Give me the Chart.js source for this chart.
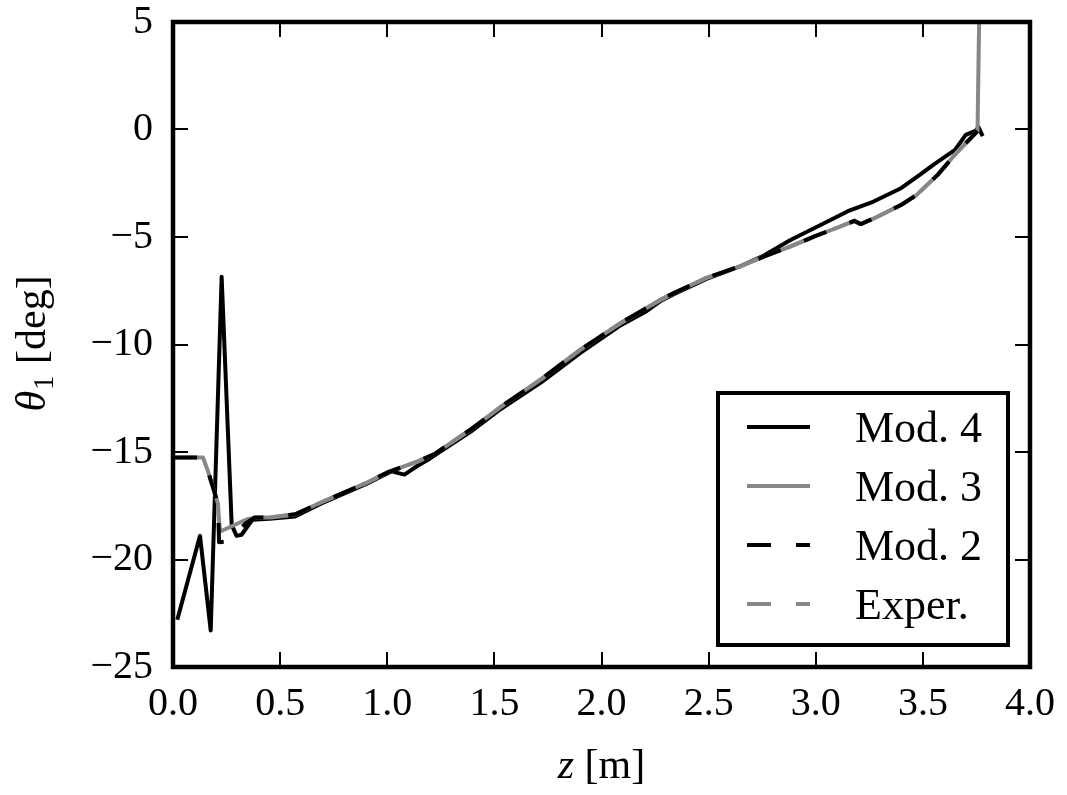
<!DOCTYPE html>
<html>
<head>
<meta charset="utf-8">
<script src="https://cdn.jsdelivr.net/npm/chart.js@4.4.1/dist/chart.umd.min.js"></script>
<style>
  html, body { margin: 0; padding: 0; background: #fff; }
  #wrap { width: 1067px; height: 795px; }
</style>
</head>
<body>
<div id="wrap"><canvas id="chart" width="1067" height="795"></canvas></div>
<script>
// values
const mod4Z = [0.02, 0.126, 0.176, 0.227, 0.274, 0.297, 0.32, 0.37, 0.45, 0.57, 0.69, 0.90, 1.00, 1.02, 1.08, 1.14, 1.20, 1.39, 1.53, 1.72, 1.90, 2.09, 2.21, 2.28, 2.34, 2.49, 2.65, 2.76, 2.88, 3.02, 3.15, 3.27, 3.40, 3.49, 3.55, 3.65, 3.70, 3.748, 3.759, 3.779];
const mod4Theta = [-22.8, -18.9, -23.3, -6.85, -18.4, -18.9, -18.85, -18.15, -18.1, -18.0, -17.4, -16.5, -16.0, -15.9, -16.05, -15.65, -15.3, -14.05, -13.0, -11.75, -10.4, -9.1, -8.45, -7.95, -7.65, -6.95, -6.35, -5.85, -5.15, -4.45, -3.8, -3.35, -2.72, -2.08, -1.63, -0.95, -0.25, -0.05, 0.12, -0.31];

const mod3Z = [0.00, 0.14, 0.165, 0.21, 0.215, 0.22, 0.34, 0.38, 0.45, 0.57, 0.69, 0.90, 1.00, 1.14, 1.22, 1.39, 1.53, 1.72, 1.90, 2.09, 2.28, 2.34, 2.49, 2.65, 2.76, 2.88, 3.00, 3.10, 3.18, 3.21, 3.29, 3.40, 3.47, 3.57, 3.66, 3.755, 3.77];
const mod3Theta = [-15.25, -15.25, -15.95, -17.4, -18.2, -18.7, -18.15, -18.05, -18.05, -17.9, -17.35, -16.45, -15.95, -15.45, -15.1, -13.95, -12.9, -11.6, -10.25, -9.0, -7.9, -7.6, -6.9, -6.35, -5.9, -5.45, -4.95, -4.57, -4.25, -4.4, -4.05, -3.5, -3.05, -2.1, -1.05, -0.08, 10];

const mod2Z = [0.00, 0.14, 0.165, 0.21, 0.215, 0.258, 0.336, 0.38, 0.45, 0.57, 0.69, 0.90, 1.00, 1.14, 1.22, 1.39, 1.53, 1.72, 1.90, 2.09, 2.28, 2.34, 2.49, 2.65, 2.76, 2.88, 3.00, 3.10, 3.18, 3.21, 3.29, 3.40, 3.47, 3.57, 3.66, 3.755];
const mod2Theta = [-15.25, -15.25, -15.95, -17.4, -19.2, -19.15, -18.35, -18.05, -18.05, -17.9, -17.35, -16.45, -15.95, -15.45, -15.1, -13.95, -12.9, -11.6, -10.25, -9.0, -7.9, -7.6, -6.9, -6.35, -5.9, -5.45, -4.95, -4.57, -4.25, -4.4, -4.05, -3.5, -3.05, -2.1, -1.05, -0.08];

const experZ = [0.34, 0.38, 0.45, 0.57, 0.69, 0.90, 1.00, 1.14, 1.22, 1.39, 1.53, 1.72, 1.90, 2.09, 2.28, 2.34, 2.49, 2.65, 2.76, 2.88, 3.00, 3.10, 3.18, 3.21, 3.29, 3.40, 3.47, 3.57, 3.66, 3.755];
const experTheta = [-18.15, -18.05, -18.05, -17.9, -17.35, -16.45, -15.95, -15.45, -15.1, -13.95, -12.9, -11.6, -10.25, -9.0, -7.9, -7.6, -6.9, -6.35, -5.9, -5.45, -4.95, -4.57, -4.25, -4.4, -4.05, -3.5, -3.05, -2.1, -1.05, -0.08];

const seriesLabels = ["Mod. 4", "Mod. 3", "Mod. 2", "Exper."];
const xTicks = [0, 0.5, 1, 1.5, 2, 2.5, 3, 3.5, 4];
const yTicks = [-25, -20, -15, -10, -5, 0, 5];

const BLACK = "#000000";
const GRAY = "#878787";
const DASH = [24, 25];
const LW = 4;
const SERIF = "'Liberation Serif', 'DejaVu Serif', serif";

const pts = (zs, ts) => zs.map((z, i) => ({ x: z, y: ts[i] }));

// frame, inward ticks, axis titles and the boxed legend
const decorations = {
  id: "decorations",
  afterDraw(chart) {
    const { ctx, chartArea: a } = chart;
    const xs = chart.scales.x, ys = chart.scales.y;
    ctx.save();

    // inward ticks on all four sides
    ctx.strokeStyle = BLACK;
    ctx.lineWidth = 2;
    const tl = 15;
    xTicks.forEach(v => {
      const px = Math.round(xs.getPixelForValue(v));
      ctx.beginPath();
      ctx.moveTo(px, a.bottom); ctx.lineTo(px, a.bottom - tl);
      ctx.moveTo(px, a.top); ctx.lineTo(px, a.top + tl);
      ctx.stroke();
    });
    yTicks.forEach(v => {
      const py = Math.round(ys.getPixelForValue(v));
      ctx.beginPath();
      ctx.moveTo(a.left, py); ctx.lineTo(a.left + tl, py);
      ctx.moveTo(a.right, py); ctx.lineTo(a.right - tl, py);
      ctx.stroke();
    });

    // frame
    ctx.lineWidth = 4.5;
    ctx.strokeRect(a.left, a.top, a.right - a.left, a.bottom - a.top);

    // x title: italic z + [m]
    ctx.fillStyle = BLACK;
    ctx.textBaseline = "alphabetic";
    const cx = (a.left + a.right) / 2;
    ctx.font = "italic 42px " + SERIF;
    const wz = ctx.measureText("z").width;
    ctx.font = "42px " + SERIF;
    const wm = ctx.measureText(" [m]").width;
    let x0 = cx - (wz + wm) / 2;
    ctx.font = "italic 42px " + SERIF;
    ctx.fillText("z", x0, 778);
    ctx.font = "42px " + SERIF;
    ctx.fillText(" [m]", x0 + wz, 778);

    // y title: θ1 [deg], rotated
    ctx.save();
    ctx.translate(45, (a.top + a.bottom) / 2);
    ctx.rotate(-Math.PI / 2);
    ctx.font = "italic 42px " + SERIF;
    const wt = ctx.measureText("θ").width;
    ctx.font = "29px " + SERIF;
    const w1 = ctx.measureText("1").width;
    ctx.font = "42px " + SERIF;
    const wd = ctx.measureText(" [deg]").width;
    x0 = -(wt + w1 + wd) / 2;
    ctx.font = "italic 42px " + SERIF;
    ctx.fillText("θ", x0, 0);
    ctx.font = "29px " + SERIF;
    ctx.fillText("1", x0 + wt + 1, 8);
    ctx.font = "42px " + SERIF;
    ctx.fillText(" [deg]", x0 + wt + w1 + 2, 0);
    ctx.restore();

    // legend box
    const bw = 290, bh = 252;
    const bx = a.right - 22 - bw, by = a.bottom - 22 - bh;
    ctx.fillStyle = "#fff";
    ctx.fillRect(bx, by, bw, bh);
    ctx.lineWidth = 4;
    ctx.strokeStyle = BLACK;
    ctx.strokeRect(bx, by, bw, bh);
    seriesLabels.forEach((label, i) => {
      const ds = chart.data.datasets[i];
      const ry = by + 34 + i * 59;
      ctx.beginPath();
      ctx.strokeStyle = ds.borderColor;
      ctx.lineWidth = LW;
      ctx.setLineDash(ds.borderDash || []);
      ctx.moveTo(bx + 29, ry);
      ctx.lineTo(bx + 92, ry);
      ctx.stroke();
      ctx.setLineDash([]);
      ctx.fillStyle = BLACK;
      ctx.font = "44px " + SERIF;
      ctx.fillText(label, bx + 137, ry + 15);
    });

    ctx.restore();
  }
};

new Chart(document.getElementById("chart"), {
  type: "line",
  data: {
    datasets: [
      { label: seriesLabels[0], data: pts(mod4Z, mod4Theta), borderColor: BLACK, borderWidth: LW, order: 4 },
      { label: seriesLabels[1], data: pts(mod3Z, mod3Theta), borderColor: GRAY, borderWidth: LW, order: 3 },
      { label: seriesLabels[2], data: pts(mod2Z, mod2Theta), borderColor: BLACK, borderWidth: LW, borderDash: DASH, order: 1 },
      { label: seriesLabels[3], data: pts(experZ, experTheta), borderColor: GRAY, borderWidth: LW, borderDash: DASH, borderDashOffset: 24, order: 2 },
    ],
  },
  options: {
    responsive: false,
    animation: false,
    devicePixelRatio: 1,
    layout: { padding: { left: 0, right: 37, top: 22, bottom: 0 } },
    elements: {
      line: { tension: 0, fill: false, borderJoinStyle: "round" },
      point: { radius: 0 },
    },
    plugins: { legend: { display: false }, tooltip: { enabled: false } },
    scales: {
      x: {
        type: "linear",
        min: 0, max: 4,
        afterBuildTicks: s => { s.ticks = xTicks.map(v => ({ value: v })); },
        afterFit: s => { s.height = 128; s.paddingLeft = 0; s.paddingRight = 0; },
        grid: { display: false, drawTicks: false },
        border: { display: false },
        ticks: {
          color: BLACK,
          padding: 13,
          font: { family: SERIF, size: 40 },
          callback: v => Number(v).toFixed(1),
        },
      },
      y: {
        type: "linear",
        min: -25, max: 5,
        afterBuildTicks: s => { s.ticks = yTicks.map(v => ({ value: v })); },
        afterFit: s => { s.width = 173; s.paddingTop = 0; s.paddingBottom = 0; },
        grid: { display: false, drawTicks: false },
        border: { display: false },
        ticks: {
          color: BLACK,
          padding: 20,
          font: { family: SERIF, size: 40 },
          callback: v => (v < 0 ? "\u2212" + Math.abs(v) : String(v)),
        },
      },
    },
  },
  plugins: [decorations],
});
</script>
</body>
</html>
